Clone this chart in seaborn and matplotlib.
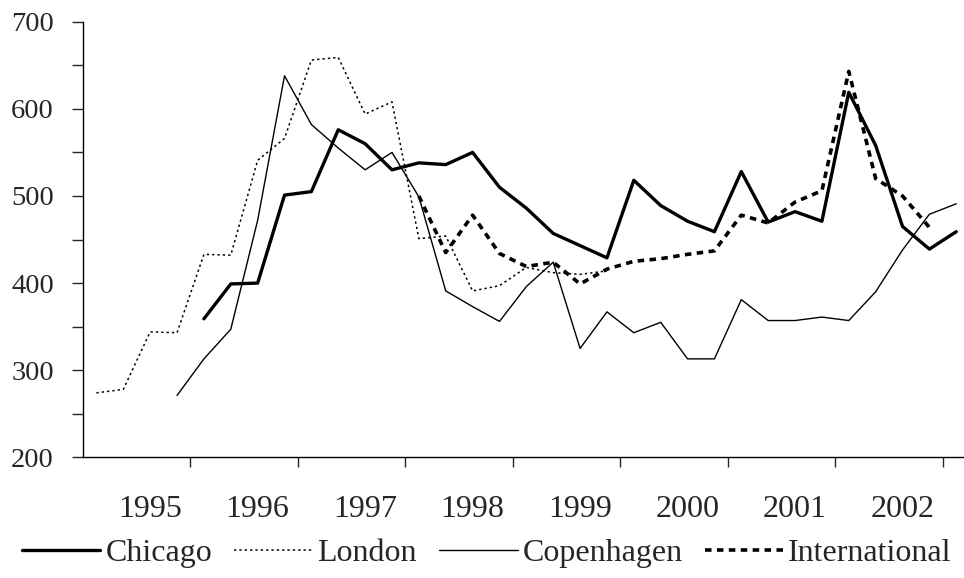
import numpy as np
import pandas as pd
import seaborn as sns
import matplotlib
matplotlib.use("Agg")
import matplotlib.pyplot as plt

# quarterly index, 1995 Q1 .. 2003 Q1
quarters = np.arange(33)
years = ["1995", "1996", "1997", "1998", "1999", "2000", "2001", "2002"]

nan = np.nan
chicago = [nan, nan, nan, nan, 359, 399, 400, 501, 505, 576, 560, 530, 538, 536, 550, 510,
           486, 457, 443, 429, 518, 489, 471, 459, 528, 470, 482, 471, 619, 558, 465, 439, 459]
london = [274, 278, 344, 343, 433, 432, 541, 566, 656, 659, 594, 608, 451, 454, 391, 397,
          418, 412, 410, 414, nan, nan, nan, nan, nan, nan, nan, nan, nan, nan, nan, nan, nan]
copenhagen = [nan, nan, nan, 271, 313, 347, 472, 638, 582, 555, 530, 550, 499, 391, 373, 356,
              396, 424, 325, 367, 343, 355, 313, 313, 381, 357, 357, 361, 357, 390, 438, 479, 491]
international = [nan, nan, nan, nan, nan, nan, nan, nan, nan, nan, nan, nan, 500, 435, 478, 434,
                 419, 424, 399, 416, 425, 428, 433, 437, 478, 469, 493, 506, 643, 520, 500, 464, nan]

df = pd.DataFrame({"q": quarters, "Chicago": chicago, "London": london,
                   "Copenhagen": copenhagen, "International": international})

sns.set_style("white")
plt.rcParams["font.family"] = ["Liberation Serif", "DejaVu Serif"]

fig = plt.figure(figsize=(9.64, 5.78), dpi=100)
ax = fig.add_axes([0.0861, 0.2088, 0.9198, 0.7536])

styles = {
    "Chicago": dict(linewidth=2.4, linestyle="-"),
    "London": dict(linewidth=1.1, linestyle=(0, (1.5, 2.0))),
    "Copenhagen": dict(linewidth=1.0, linestyle="-"),
    "International": dict(linewidth=2.6, linestyle=(0, (1.8, 1.5))),
}
for name, st in styles.items():
    d = df[["q", name]].dropna()
    sns.lineplot(x=d["q"], y=d[name], ax=ax, color="black", label=name, **st)

ax.set_xlim(-0.5, 32.5)
ax.set_ylim(200, 700)
ax.set_xlabel("")
ax.set_ylabel("")

# year boundaries as tick marks, year names as unmarked minor ticks
ax.set_xticks([3.5 + 4 * k for k in range(8)])
ax.set_xticklabels([])
ax.set_xticks([2 + 4 * k for k in range(8)], minor=True)
ax.set_xticklabels(years, minor=True)
ax.tick_params(axis="x", which="major", direction="out", length=7, width=1, bottom=True)
ax.tick_params(axis="x", which="minor", length=0, pad=27, labelsize=23)

ax.set_yticks(np.arange(200, 701, 100))
ax.set_yticks(np.arange(250, 700, 100), minor=True)
ax.tick_params(axis="y", which="both", direction="out", length=8, width=1, left=True,
               labelsize=20.5, pad=13)

for s in ["top", "right"]:
    ax.spines[s].set_visible(False)
for s in ["left", "bottom"]:
    ax.spines[s].set_color("black")
    ax.spines[s].set_linewidth(1.0)

ax.legend(loc="center", bbox_to_anchor=(0.505, 0.042), bbox_transform=fig.transFigure,
          ncol=4, frameon=False, fontsize=23, handlelength=2.45, handletextpad=0.15,
          columnspacing=0.7, borderpad=0, borderaxespad=0)

fig.savefig("out.png", dpi=100)
